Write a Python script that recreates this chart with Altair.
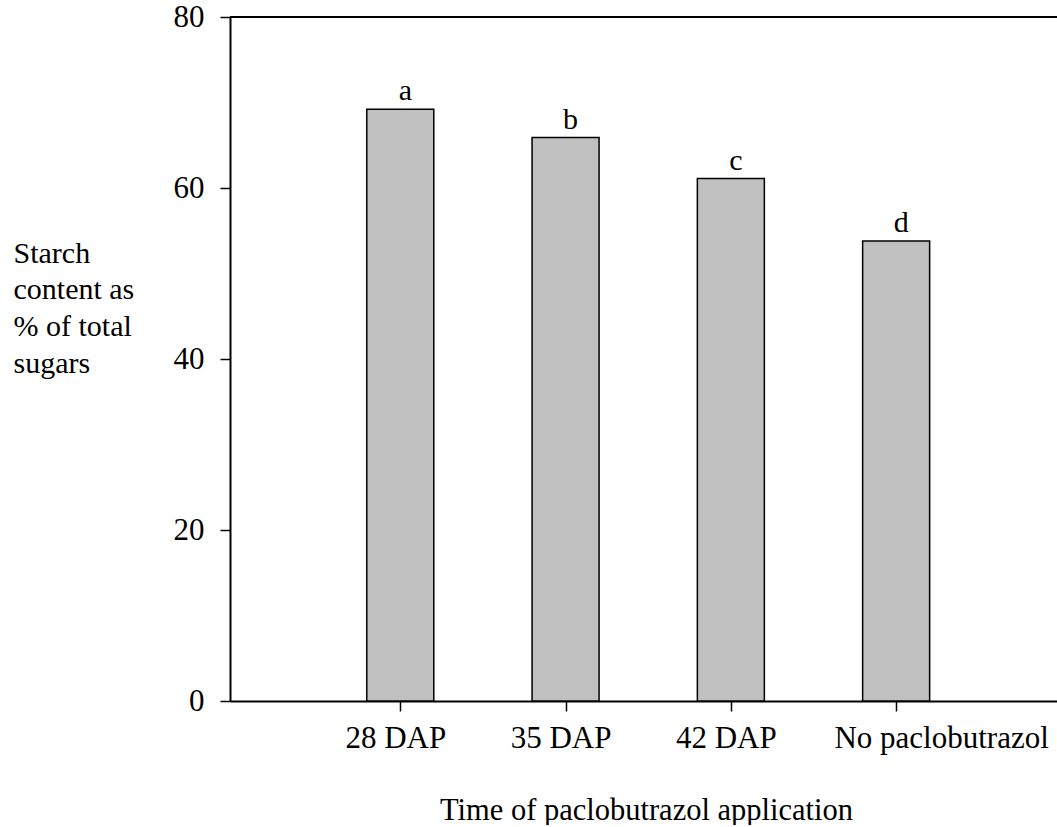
import altair as alt
import pandas as pd

categories = ["28 DAP", "35 DAP", "42 DAP", "No paclobutrazol"]
values = [69.2, 65.9, 61.1, 53.8]
letters = ["a", "b", "c", "d"]
y_ticks = [0, 20, 40, 60, 80]
y_title = ["Starch", "content as", "% of total", "\u00a0sugars"]
x_title = "Time of paclobutrazol application"

df = pd.DataFrame({
    "pos": list(range(1, len(categories) + 1)),
    "cat": categories,
    "val": values,
    "letter": letters,
})

label_expr = "[" + ",".join(f"'{c}'" for c in categories) + "][datum.value - 1]"

FONT = "Liberation Serif"

x_enc = alt.X(
    "pos:Q",
    scale=alt.Scale(domain=[0, 4.943], nice=False, zero=False),
    axis=alt.Axis(
        values=[1, 2, 3, 4],
        labelExpr=label_expr,
        title=x_title,
        grid=False,
        tickSize=10,
        tickWidth=1.5,
        tickColor="black",
        domainColor="black",
        domainWidth=2,
        labelFont=FONT,
        labelFontSize=31,
        labelColor="black",
        labelPadding=12,
        labelFlush=False,
        labelOverlap=False,
        labelLimit=0,
        labelOffset={"condition": {"test": "datum.value == 4", "value": 45}, "value": -5},
        titleFont=FONT,
        titleFontSize=30.5,
        titleFontWeight="normal",
        titleColor="black",
        titleX=416,
        titleY=118,
        titleBaseline="alphabetic",
        titleAnchor="middle",
    ),
)

y_enc = alt.Y(
    "val:Q",
    scale=alt.Scale(domain=[0, 80], nice=False),
    axis=alt.Axis(
        values=y_ticks,
        title=y_title,
        grid=False,
        tickSize=10,
        tickWidth=1.5,
        tickColor="black",
        domainColor="black",
        domainWidth=2,
        labelFont=FONT,
        labelFontSize=31,
        labelColor="black",
        labelPadding=16,
        labelFlush=False,
        titleFont=FONT,
        titleFontSize=30,
        titleFontWeight="normal",
        titleColor="black",
        titleAngle=0,
        titleAlign="left",
        titleBaseline="alphabetic",
        titleX=-217,
        titleY=245,
        titleLineHeight=36.7,
    ),
)

bars = alt.Chart(df).mark_bar(
    size=67, color="#c0c0c0", stroke="black", strokeWidth=1.5
).encode(x=x_enc, y=y_enc)

text = alt.Chart(df).mark_text(
    font=FONT, fontSize=30, color="black", baseline="alphabetic", dy=-9, dx=5
).encode(x="pos:Q", y="val:Q", text="letter:N")

top = alt.Chart(df).mark_rule(color="black", strokeWidth=2).encode(
    y=alt.datum(80)
)

chart = alt.layer(bars, text, top).properties(
    width=827,
    height=684,
    autosize=alt.AutoSizeParams(type="none"),
    padding={"left": 230, "top": 17, "right": 0, "bottom": 124},
).configure_view(stroke=None)

chart.save("out.html", embed_options={"renderer": "svg", "actions": False})
